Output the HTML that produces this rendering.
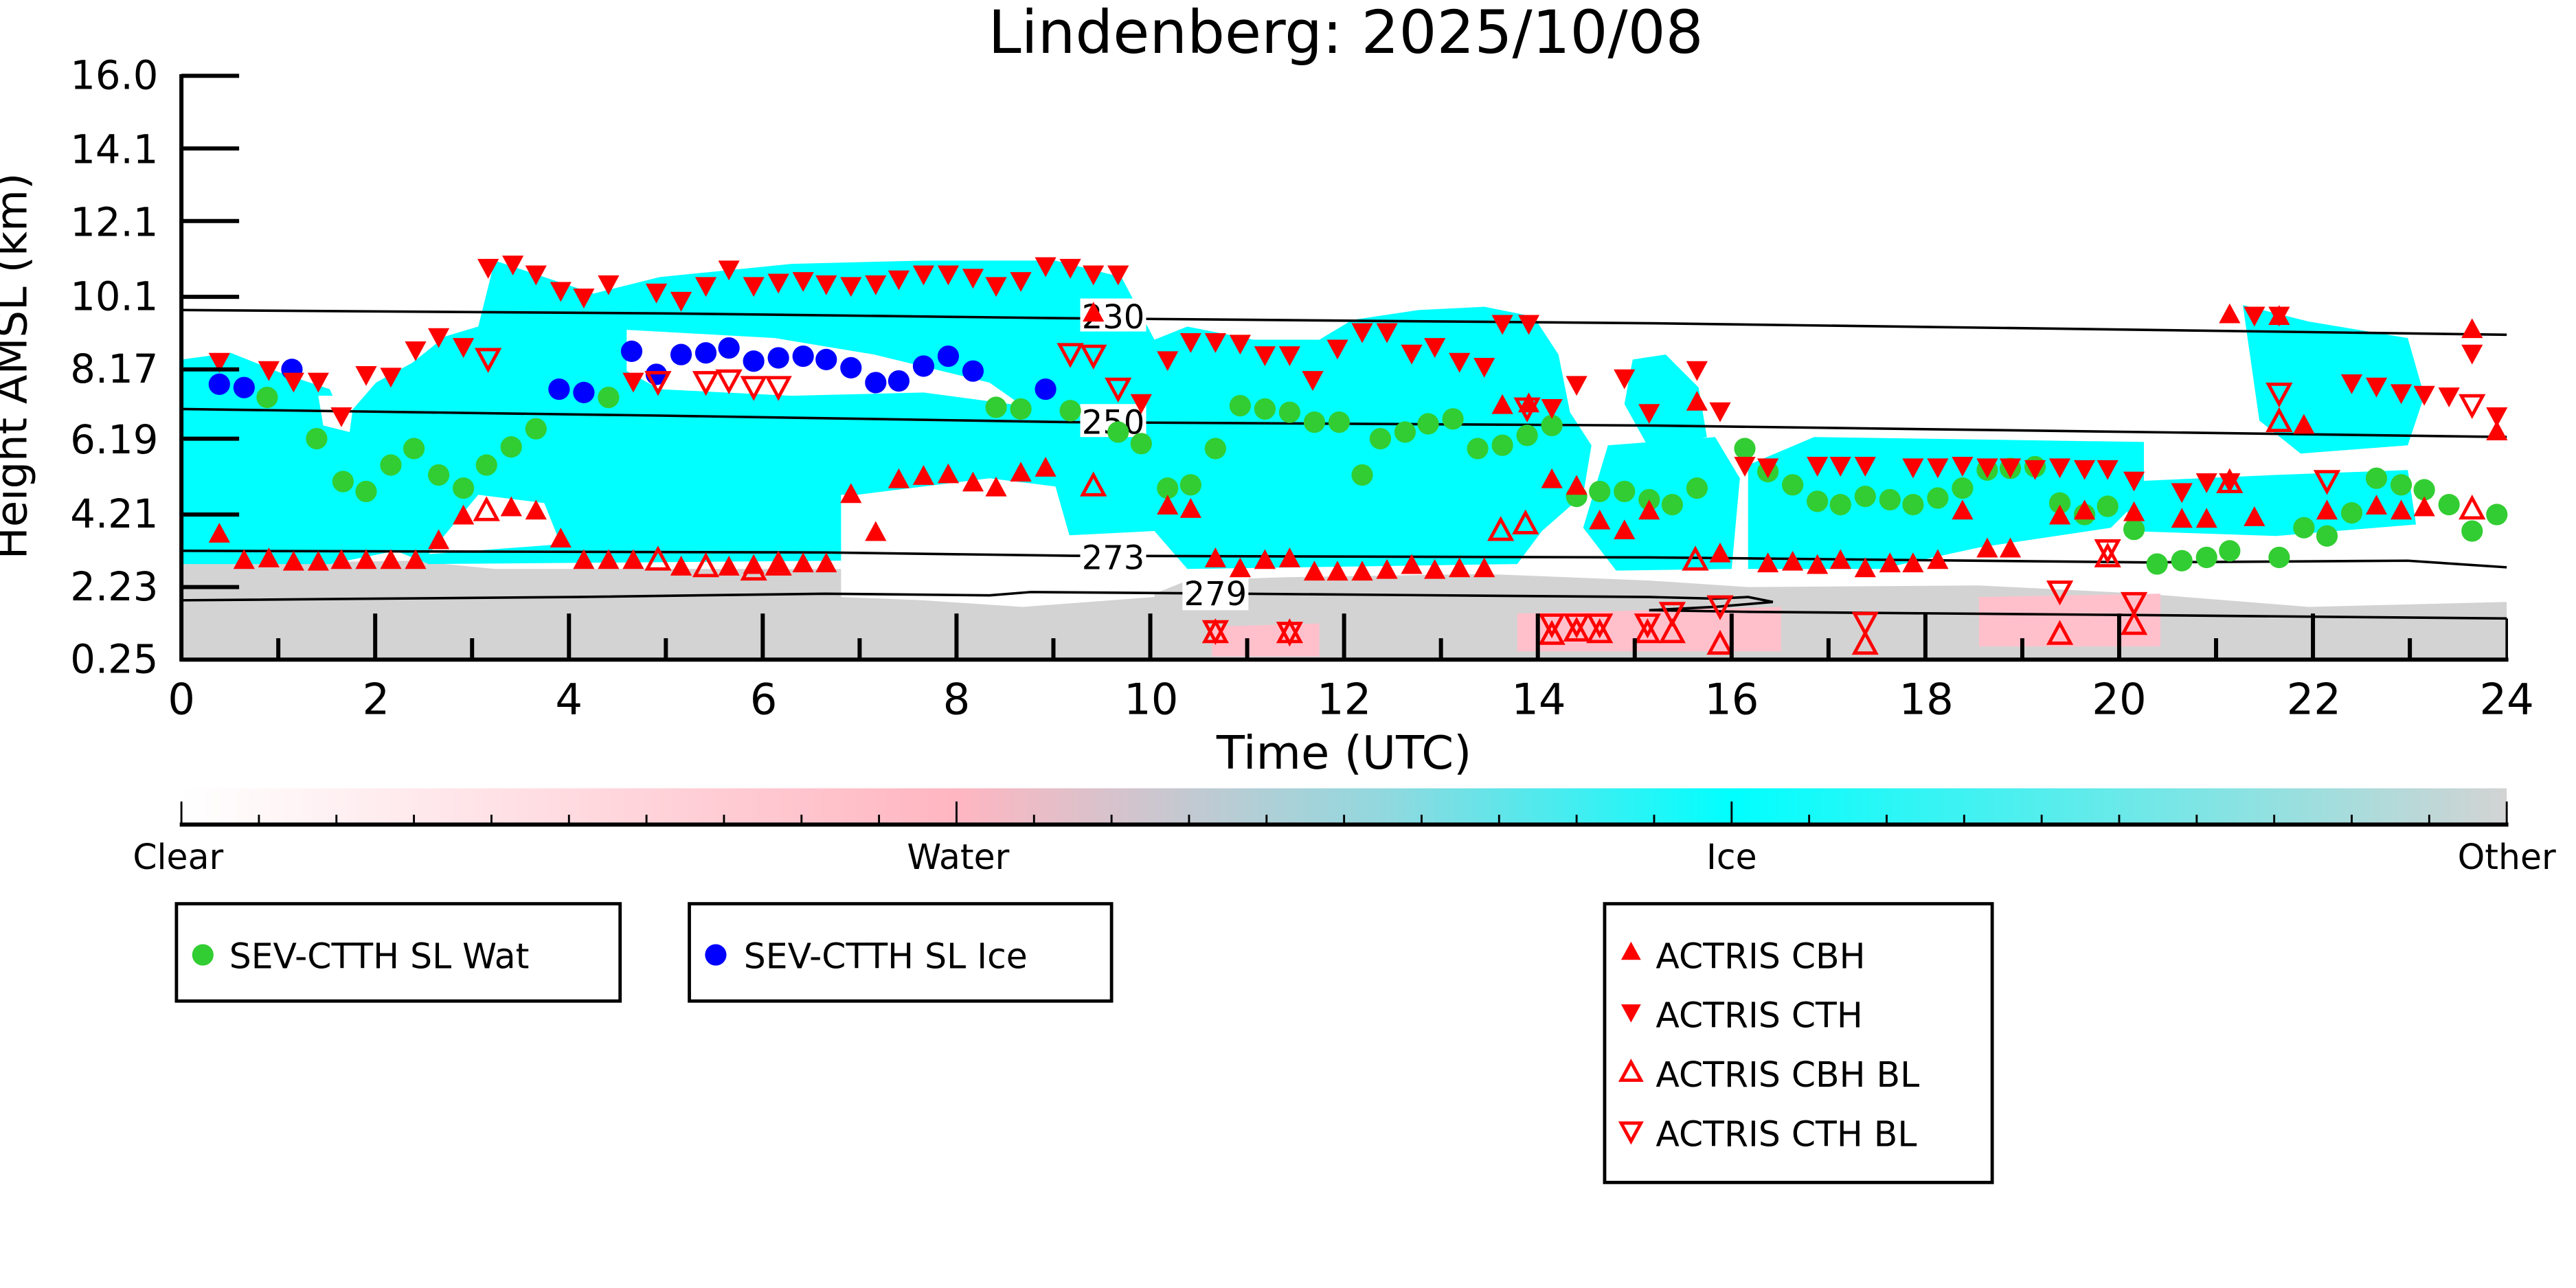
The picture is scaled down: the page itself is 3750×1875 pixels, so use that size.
<!DOCTYPE html>
<html><head><meta charset="utf-8"><style>
html,body{margin:0;padding:0;background:#fff;width:3750px;height:1875px;overflow:hidden}
svg{display:block}
text{font-family:"DejaVu Sans","Liberation Sans",sans-serif;fill:#000}
</style></head><body>
<svg id="s" width="3750" height="1875" viewBox="0 0 1562 781" preserveAspectRatio="none" xmlns="http://www.w3.org/2000/svg">
<defs>
<linearGradient id="cb" x1="0" x2="1" y1="0" y2="0">
<stop offset="0" stop-color="#ffffff"/>
<stop offset="0.333" stop-color="#ffb6c1"/>
<stop offset="0.52" stop-color="#8fd9df"/>
<stop offset="0.667" stop-color="#00ffff"/>
<stop offset="1" stop-color="#d3d3d3"/>
</linearGradient>
</defs>
<text x="816" y="32" font-size="36" text-anchor="middle">Lindenberg: 2025/10/08</text>

<!-- gray lower clouds -->
<polygon fill="#d3d3d3" points="110,342 250,340 300,345 510,345 520,360 600,366 700,360 720,352 780,350 900,348 1000,352 1060,356 1200,355 1300,360 1400,368 1520,365 1520,400 110,400"/>
<polygon fill="#ffffff" points="510,340 700,340 700,362 620,368 560,364 510,362"/>
<polygon fill="#ffc0cb" points="920,372 1080,368 1080,395 920,395"/>
<polygon fill="#ffc0cb" points="1200,362 1310,360 1310,392 1200,392"/>
<polygon fill="#ffc0cb" points="735,380 800,378 800,398 735,398"/>
<!-- cyan main -->
<polygon fill="#00ffff" points="110,218 140,214 170,226 200,236 208,255 228,232 250,220 270,204 290,198 300,158 330,168 360,178 400,168 440,164 480,160 560,158 640,158 680,168 700,206 720,198 760,206 800,206 820,194 860,188 900,186 930,192 945,215 952,250 965,270 960,300 935,322 920,342 720,345 700,322 640,325 620,300 510,300 510,340 260,342 240,334 200,342 110,342"/>
<polygon fill="#ffffff" points="520,300 600,290 640,295 650,330 520,335"/>
<polygon fill="#ffffff" points="380,200 470,205 530,215 600,232 620,246 560,238 480,240 400,236 380,225"/>
<polygon fill="#ffffff" points="290,300 330,305 340,330 260,336"/>
<polygon fill="#ffffff" points="193,240 215,240 212,262 196,258"/>
<polygon fill="#00ffff" points="975,270 1040,265 1055,290 1050,345 980,346 960,320"/>
<polygon fill="#00ffff" points="990,218 1010,215 1030,235 1035,265 1000,272 985,245"/>
<polygon fill="#00ffff" points="1060,282 1100,265 1300,268 1300,300 1280,320 1200,332 1140,345 1060,345"/>
<polygon fill="#00ffff" points="1290,292 1380,288 1460,285 1465,318 1380,325 1290,322"/>
<polygon fill="#00ffff" points="1360,185 1400,195 1460,205 1470,240 1460,270 1395,275 1370,255"/>

<!-- contours -->
<g fill="none" stroke="#000" stroke-width="1.5">
<polyline points="110,188 400,190 650,193 1000,196 1300,200 1520,203"/>
<polyline points="110,248 400,252 650,256 1000,258 1300,262 1520,265"/>
<polyline points="110,334 500,335 650,337 1000,338 1300,341 1460,340 1520,344"/>
<polyline points="110,364 350,362 500,360 600,361 625,359 1000,362 1040,363 1060,362 1075,365 1040,368 1000,370 1060,371 1300,373 1520,375"/>
</g>
<g font-size="20">
<rect x="655" y="181" width="40" height="20" fill="#fff"/><text x="675" y="199" text-anchor="middle">230</text>
<rect x="655" y="245" width="40" height="20" fill="#fff"/><text x="675" y="263" text-anchor="middle">250</text>
<rect x="655" y="327" width="40" height="20" fill="#fff"/><text x="675" y="345" text-anchor="middle">273</text>
<rect x="717" y="350" width="40" height="20" fill="#fff"/><text x="737" y="367" text-anchor="middle">279</text>
</g>

<g id="mk"></g>

<!-- axes -->
<g stroke="#000" stroke-width="2.5">
<line x1="110" y1="45" x2="110" y2="401"/>
<line x1="109" y1="400" x2="1521" y2="400"/>
<line x1="1520" y1="375" x2="1520" y2="400" stroke-width="1.5"/>
</g>
<g id="ticks" stroke="#000" stroke-width="2.5"></g>
<g font-size="24" text-anchor="end">
<text x="96" y="54">16.0</text><text x="96" y="99">14.1</text><text x="96" y="143">12.1</text>
<text x="96" y="188">10.1</text><text x="96" y="232">8.17</text><text x="96" y="275">6.19</text>
<text x="96" y="320">4.21</text><text x="96" y="364">2.23</text><text x="96" y="408">0.25</text>
</g>
<g font-size="26" text-anchor="middle">
<text x="110" y="433">0</text><text x="228" y="433">2</text><text x="345" y="433">4</text><text x="463" y="433">6</text>
<text x="580" y="433">8</text><text x="698" y="433">10</text><text x="815" y="433">12</text><text x="933" y="433">14</text>
<text x="1050" y="433">16</text><text x="1168" y="433">18</text><text x="1285" y="433">20</text><text x="1403" y="433">22</text><text x="1520" y="433">24</text>
</g>
<text x="815" y="466" font-size="28" text-anchor="middle">Time (UTC)</text>
<text transform="translate(16,222) rotate(-90)" font-size="26" text-anchor="middle">Height AMSL (km)</text>

<!-- colorbar -->
<rect x="110" y="478" width="1410" height="22" fill="url(#cb)"/>
<line x1="109" y1="500" x2="1521" y2="500" stroke="#000" stroke-width="2.5"/>
<g id="cbt" stroke="#000" stroke-width="1.2"></g>
<g font-size="21" text-anchor="middle">
<text x="108" y="527">Clear</text><text x="581" y="527">Water</text><text x="1050" y="527">Ice</text><text x="1520" y="527">Other</text>
</g>

<!-- legends -->
<g fill="none" stroke="#000" stroke-width="2">
<rect x="107" y="548" width="269" height="59"/>
<rect x="418" y="548" width="256" height="59"/>
<rect x="973" y="548" width="235" height="169"/>
</g>
<g font-size="21">
<circle cx="123" cy="579" r="6.5" fill="#32cd32"/><text x="139" y="587">SEV-CTTH SL Wat</text>
<circle cx="434" cy="579" r="6.5" fill="#0000ff"/><text x="451" y="587">SEV-CTTH SL Ice</text>
<polygon points="989,571 995,582 983,582" fill="#f00"/><text x="1004" y="587">ACTRIS CBH</text>
<polygon points="983,609 995,609 989,620" fill="#f00"/><text x="1004" y="623">ACTRIS CTH</text>
<polygon points="989,644 995,655 983,655" fill="none" stroke="#f00" stroke-width="2"/><text x="1004" y="659">ACTRIS CBH BL</text>
<polygon points="983,681 995,681 989,692" fill="none" stroke="#f00" stroke-width="2"/><text x="1004" y="695">ACTRIS CTH BL</text>
</g>
</svg>
<script>
var NS="http://www.w3.org/2000/svg";
function el(p,t,a){var e=document.createElementNS(NS,t);for(var k in a)e.setAttribute(k,a[k]);p.appendChild(e);return e;}
var mk=document.getElementById("mk");
var green=[[162,241],[192,266],[208,292],[222,298],[237,282],[251,272],[266,288],[281,296],[295,282],[310,271],[325,260],[369,241],[604,247],[619,248],[649,249],[678,262],[692,269],[708,296],[722,294],[737,272],[752,246],[767,248],[782,250],[797,256],[812,256],[826,288],[837,266],[852,262],[866,257],[881,254],[896,272],[911,270],[926,264],[941,258],[956,301],[970,298],[985,298],[1000,303],[1014,306],[1029,296],[1058,272],[1072,286],[1087,294],[1102,304],[1116,306],[1131,301],[1146,303],[1160,306],[1175,302],[1190,296],[1205,285],[1219,284],[1234,283],[1249,305],[1264,312],[1278,307],[1294,321],[1308,342],[1323,340],[1338,338],[1352,334],[1382,338],[1397,320],[1411,325],[1426,311],[1441,290],[1456,294],[1470,297],[1485,306],[1499,322],[1514,312]];
var blue=[[133,233],[148,235],[177,224],[339,236],[354,238],[383,213],[398,227],[413,215],[428,214],[442,211],[457,219],[472,217],[487,216],[501,218],[516,223],[531,232],[545,231],[560,222],[575,216],[590,225],[634,236]];
var cth=[[133,219],[163,224],[178,231],[193,231],[207,252],[222,227],[237,228],[252,212],[266,204],[281,210],[296,162],[311,160],[325,166],[340,176],[354,180],[369,172],[384,231],[398,177],[413,182],[428,173],[442,163],[457,173],[472,171],[487,170],[501,172],[516,173],[531,172],[545,169],[560,166],[575,166],[590,168],[604,173],[619,170],[634,161],[649,162],[663,166],[678,166],[692,244],[708,218],[722,207],[737,207],[752,208],[767,215],[782,215],[796,230],[811,211],[826,201],[841,201],[856,214],[870,210],[885,219],[900,222],[911,196],[927,196],[941,247],[956,233],[985,229],[1000,250],[1029,224],[1043,249],[1058,282],[1072,283],[1102,282],[1116,282],[1131,282],[1160,283],[1175,283],[1190,282],[1205,283],[1219,283],[1234,284],[1249,283],[1264,284],[1278,284],[1294,291],[1323,298],[1338,292],[1352,292],[1367,191],[1382,191],[1426,232],[1441,234],[1456,238],[1470,239],[1485,240],[1499,214],[1514,252]];
var cbh=[[133,324],[148,340],[163,339],[178,341],[193,341],[207,340],[222,340],[237,340],[252,340],[266,328],[281,313],[310,308],[325,310],[340,327],[354,340],[369,340],[384,340],[413,344],[442,344],[457,343],[472,342],[487,342],[501,342],[516,300],[531,323],[545,291],[560,289],[575,288],[590,293],[604,296],[619,287],[634,284],[663,190],[708,307],[722,309],[737,339],[752,345],[767,340],[782,339],[797,347],[811,347],[826,347],[841,346],[856,343],[870,346],[885,345],[900,345],[911,246],[927,245],[941,291],[956,295],[970,316],[985,322],[1000,310],[1029,244],[1043,336],[1072,342],[1087,341],[1102,343],[1116,340],[1131,345],[1146,342],[1160,342],[1175,340],[1190,310],[1205,333],[1219,333],[1249,313],[1264,310],[1294,311],[1323,315],[1338,315],[1352,191],[1367,314],[1382,192],[1397,258],[1411,310],[1441,307],[1456,310],[1470,308],[1499,200],[1514,262]];
var cbhbl=[[295,310],[399,340],[428,344],[457,346],[472,343],[663,295],[737,384],[782,384],[910,322],[925,318],[941,385],[956,383],[970,384],[999,384],[1014,384],[1028,340],[1043,391],[1131,391],[1249,385],[1278,338],[1294,379],[1352,293],[1382,256],[1499,309]];
var cthbl=[[296,217],[399,231],[428,231],[442,230],[457,234],[472,234],[649,214],[663,215],[678,235],[737,382],[782,383],[926,247],[941,378],[956,378],[970,378],[999,378],[1014,371],[1043,367],[1131,377],[1249,358],[1278,333],[1294,365],[1382,238],[1411,291],[1499,245]];
green.forEach(function(p){el(mk,"circle",{cx:p[0],cy:p[1],r:6.5,fill:"#32cd32"});});
blue.forEach(function(p){el(mk,"circle",{cx:p[0],cy:p[1],r:6.5,fill:"#0000ff"});});
function up(p,f){var x=p[0],y=p[1];el(mk,"polygon",{points:(x)+","+(y-7)+" "+(x+6.5)+","+(y+5)+" "+(x-6.5)+","+(y+5),fill:f?"#f00":"none",stroke:f?"none":"#f00","stroke-width":2});}
function dn(p,f){var x=p[0],y=p[1];el(mk,"polygon",{points:(x-6.5)+","+(y-5)+" "+(x+6.5)+","+(y-5)+" "+x+","+(y+7),fill:f?"#f00":"none",stroke:f?"none":"#f00","stroke-width":2});}
cth.forEach(function(p){dn(p,1);});cbh.forEach(function(p){up(p,1);});
cbhbl.forEach(function(p){up(p,0);});cthbl.forEach(function(p){dn(p,0);});
var tk=document.getElementById("ticks");
[46,90,134,180,224,266,312,356].forEach(function(y){el(tk,"line",{x1:110,y1:y,x2:145,y2:y});});
for(var h=1;h<24;h++){var x=110+h*58.75;el(tk,"line",{x1:x,y1:400,x2:x,y2:h%2?387:372});}
var cb=document.getElementById("cbt");
for(var i=0;i<=30;i++){var x=110+i*47;el(cb,"line",{x1:x,y1:500,x2:x,y2:i%10?494:486});}
</script>
</body></html>
